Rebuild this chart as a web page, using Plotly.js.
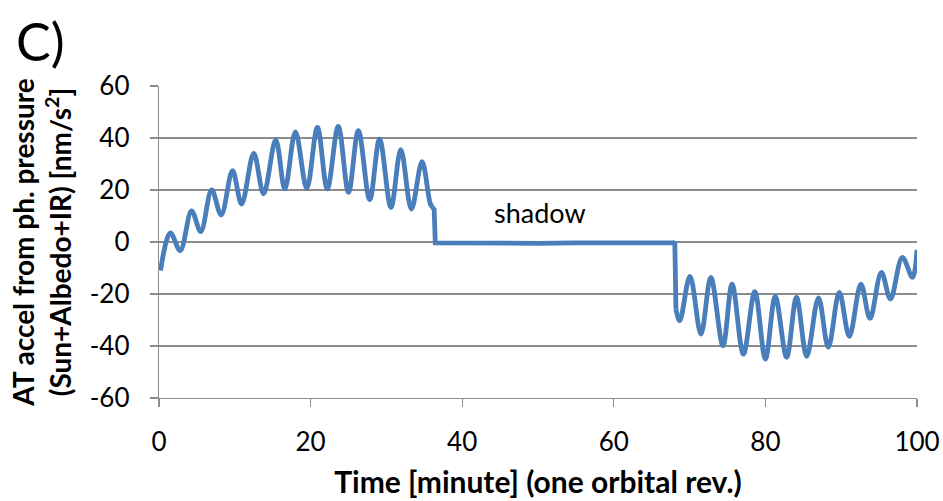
<!DOCTYPE html>
<html>
<head>
<meta charset="utf-8">
<script src="https://cdn.plot.ly/plotly-3.0.1.min.js"></script>
<style>html,body{margin:0;padding:0;background:#fff;}#chart{width:943px;height:501px;}</style>
</head>
<body>
<div id="chart"></div>
<script>
// Sunlit arc before shadow (peaks / troughs)
const sunX = [0.2, 1.5, 2.8, 4.3, 5.5, 6.95, 8.2, 9.7, 10.9, 12.5, 13.8, 15.4, 16.6, 18.0, 19.5, 20.9, 22.2, 23.65, 25.0, 26.3, 27.8, 29.1, 30.6, 31.9, 33.3, 34.7, 35.8, 36.1];
const sunY = [-11, 3.5, -3.3, 12.0, 4.0, 20.0, 10.4, 27.4, 14.6, 34.1, 18.5, 39.3, 20.4, 42.3, 20.6, 44.1, 20.4, 44.5, 19.1, 42.8, 16.3, 39.6, 13.3, 35.5, 12.7, 30.9, 14.6, 13.3];
// Shadow (eclipse) part
const shadowX = [36.1, 36.3, 36.45, 40, 45, 50, 55, 60, 65, 67.9, 68.05, 68.2];
const shadowY = [13.3, 12.5, -0.3, -0.4, -0.3, -0.5, -0.3, -0.4, -0.3, -0.3, 0, -26];
// Sunlit arc after shadow
const sun2X = [68.2, 68.7, 70.05, 71.5, 72.8, 74.4, 75.6, 77.1, 78.6, 80.0, 81.3, 82.8, 84.1, 85.45, 87.0, 88.3, 89.75, 91.07, 92.6, 93.8, 95.3, 96.5, 98.06, 99.4, 100];
const sun2Y = [-26, -30.3, -13.2, -35.4, -13.6, -39.9, -16.2, -43.1, -19.1, -45.0, -21.0, -44.3, -21.3, -44.0, -21.5, -40.5, -19.4, -36.3, -16.2, -29.4, -11.7, -21.9, -5.9, -13.6, -3.0];

const xTickVals = [0, 20, 40, 60, 80, 100];
const xTickLabels = ['0', '20', '40', '60', '80', '100'];
const yTickVals = [-60, -40, -20, 0, 20, 40, 60];
const yTickLabels = ['-60', '-40', '-20', '0', '20', '40', '60'];

const lineColor = '#4a7ebb';
const gridColor = '#8c8c8c';
const FONT = 'Lato, "Open Sans", sans-serif';

const traces = [
  {x: sunX, y: sunY, mode: 'lines', line: {color: lineColor, width: 4.8, shape: 'spline', smoothing: 1}, showlegend: false, hoverinfo: 'skip'},
  {x: shadowX, y: shadowY, mode: 'lines', line: {color: lineColor, width: 4.8, shape: 'linear'}, showlegend: false, hoverinfo: 'skip'},
  {x: sun2X, y: sun2Y, mode: 'lines', line: {color: lineColor, width: 4.8, shape: 'spline', smoothing: 1}, showlegend: false, hoverinfo: 'skip'}
];

const layout = {
  width: 943, height: 501,
  margin: {l: 159, r: 26, t: 86, b: 103},
  paper_bgcolor: '#fff', plot_bgcolor: '#fff',
  font: {family: FONT, color: '#000'},
  xaxis: {
    range: [0, 100], tickvals: xTickVals, ticktext: xTickLabels,
    showgrid: false, zeroline: false, showline: true, linecolor: gridColor, linewidth: 1.3,
    ticks: 'outside', ticklen: 8, tickcolor: gridColor, tickwidth: 1.3,
    tickfont: {size: 26, family: FONT, color: '#000'}, ticklabelstandoff: 12,
    title: {text: 'Time [minute] (one orbital rev.)', font: {size: 30, family: FONT, color: '#000', weight: 'bold'}, standoff: 16},
    automargin: false
  },
  yaxis: {
    range: [-60, 60], tickvals: yTickVals, ticktext: yTickLabels,
    showgrid: true, gridcolor: gridColor, gridwidth: 1.3, zeroline: false,
    showline: true, linecolor: gridColor, linewidth: 1.3,
    ticks: 'outside', ticklen: 8, tickcolor: gridColor, tickwidth: 1.3,
    tickfont: {size: 26, family: FONT, color: '#000'}, ticklabelstandoff: 15,
    title: {text: 'AT accel from ph. pressure<br>(Sun+Albedo+IR) [nm/s<sup>2</sup>]', font: {size: 28, family: FONT, color: '#000', weight: 'bold'}, standoff: 10},
    automargin: false
  },
  annotations: [
    {x: 50.3, y: 11.5, xref: 'x', yref: 'y', text: 'shadow', showarrow: false, xanchor: 'center', yanchor: 'middle', font: {size: 27, family: FONT, color: '#000'}},
    {x: (14 - 159) / 758, y: 1 + (86 - 8) / 312, xref: 'paper', yref: 'paper', text: 'C)', showarrow: false, xanchor: 'left', yanchor: 'top', font: {size: 52, family: FONT, color: '#000'}}
  ]
};

Plotly.newPlot('chart', traces, layout, {staticPlot: true, displayModeBar: false});
</script>
</body>
</html>
